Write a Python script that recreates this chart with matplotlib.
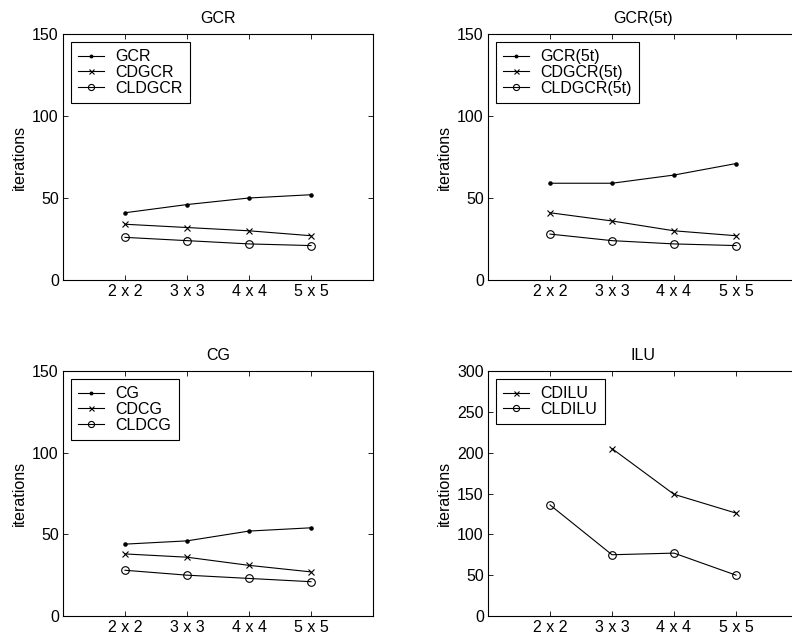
import numpy as np
import matplotlib
matplotlib.use("Agg")
import matplotlib.pyplot as plt

plt.rcParams['font.family'] = ['Liberation Sans', 'DejaVu Sans']
plt.rcParams['font.size'] = 11.5

grids = ["2 x 2", "3 x 3", "4 x 4", "5 x 5"]

gcr = [41, 46, 50, 52]
cdgcr = [34, 32, 30, 27]
cldgcr = [26, 24, 22, 21]

gcr5 = [59, 59, 64, 71]
cdgcr5 = [41, 36, 30, 27]
cldgcr5 = [28, 24, 22, 21]

cg = [44, 46, 52, 54]
cdcg = [38, 36, 31, 27]
cldcg = [28, 25, 23, 21]

cdilu = [np.nan, 205, 149, 126]
cldilu = [136, 75, 77, 50]

panels = [
    ("GCR", [(gcr, "GCR", "."), (cdgcr, "CDGCR", "x"), (cldgcr, "CLDGCR", "o")], 150, [0, 50, 100, 150]),
    ("GCR(5t)", [(gcr5, "GCR(5t)", "."), (cdgcr5, "CDGCR(5t)", "x"), (cldgcr5, "CLDGCR(5t)", "o")], 150, [0, 50, 100, 150]),
    ("CG", [(cg, "CG", "."), (cdcg, "CDCG", "x"), (cldcg, "CLDCG", "o")], 150, [0, 50, 100, 150]),
    ("ILU", [(cdilu, "CDILU", "x"), (cldilu, "CLDILU", "o")], 300, [0, 50, 100, 150, 200, 250, 300]),
]

W, H = 792, 641
fig = plt.figure(figsize=(W / 100, H / 100), dpi=100)

rects = [
    (63, 34, 310, 246),
    (488, 34, 310, 246),
    (63, 371, 310, 245),
    (488, 371, 310, 245),
]

xpos = np.arange(2, 2 + len(grids))

for (title, series, ymax, yt), (lx, ty, w, h) in zip(panels, rects):
    ax = fig.add_axes([lx / W, 1 - (ty + h) / H, w / W, h / H])
    for vals, lab, mk in series:
        if mk == ".":
            ax.plot(xpos, vals, "-", color="black", marker=".", markersize=4.5, lw=0.8, label=lab)
        elif mk == "x":
            ax.plot(xpos, vals, "-", color="black", marker="x", markersize=4.5, mew=0.8, lw=0.8, label=lab)
        else:
            ax.plot(xpos, vals, "-", color="black", marker="o", markersize=5.5, mfc="none", mew=0.8, lw=0.8, label=lab)
    ax.set_xlim(1, 6)
    ax.set_ylim(0, ymax)
    ax.set_xticks(xpos)
    ax.set_xticklabels(grids)
    ax.set_yticks(yt)
    ax.tick_params(direction="in", length=3.5, width=0.6, top=True, right=True, labelsize=11.5, pad=3)
    for s in ax.spines.values():
        s.set_linewidth(0.8)
    ax.set_title(title, fontsize=11.5, pad=8)
    ax.set_ylabel("iterations", fontsize=11.5, labelpad=4)
    leg = ax.legend(loc="upper left", fontsize=11.5, frameon=True, fancybox=False,
                    edgecolor="black", framealpha=1, handlelength=1.6, handletextpad=0.75,
                    labelspacing=0.05, borderpad=0.45, borderaxespad=0.5, markerscale=0.8)
    leg.get_frame().set_linewidth(0.8)

fig.savefig("out.png", dpi=100)
